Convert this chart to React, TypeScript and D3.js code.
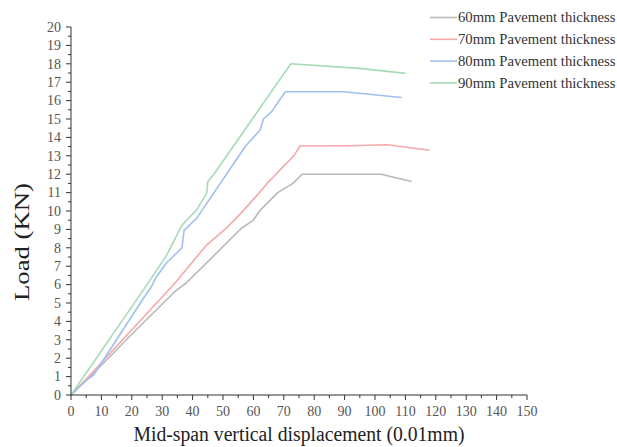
import React from "react";
import * as d3 from "d3";

const series = ["60mm Pavement thickness", "70mm Pavement thickness", "80mm Pavement thickness", "90mm Pavement thickness"];
const colors = ["#b8b8b8", "#f5a8a8", "#9ec0ef", "#a6dbb6"];

const gray: [number, number][] = [[0,0],[6,0.95],[20,3.3],[34,5.6],[38,6.1],[56,9.05],[60,9.5],[62,10],[68,11],[73,11.5],[76,12],[102,12],[112,11.6]];
const red: [number, number][] = [[0,0],[6,1.05],[22,3.9],[34,6.05],[44.6,8.15],[51,9.05],[56,9.9],[62,11],[64.5,11.5],[73.3,13.0],[75.3,13.53],[92,13.55],[104,13.6],[118,13.3]];
const blue: [number, number][] = [[0,0],[5,0.8],[7.5,1.1],[24,5.3],[26.5,5.9],[28,6.4],[31.5,7.2],[35,7.75],[36.5,8.0],[37.2,8.95],[41.3,9.6],[57.5,13.55],[62.2,14.4],[63.3,15.0],[66,15.4],[70.5,16.48],[89.6,16.48],[108.8,16.17]];
const green: [number, number][] = [[0,0],[25,6.0],[31.5,7.6],[36.4,9.2],[38,9.5],[41.3,10.05],[44.6,10.96],[45,11.6],[47,12.0],[72.3,18],[95,17.75],[110,17.48]];
const allData = [gray, red, blue, green];

const xTicks = d3.range(0, 151, 10);
const yTicks = d3.range(0, 21, 1);

export default function App() {
  const x = d3.scaleLinear().domain([0, 150]).range([71, 527]);
  const y = d3.scaleLinear().domain([0, 20]).range([395, 27]);
  const line = d3.line<[number, number]>().x(d => x(d[0])).y(d => y(d[1]));
  const font = "'Liberation Serif', 'Times New Roman', serif";
  const xMinor = d3.range(5, 150, 10);
  const yMinor = d3.range(0.5, 20, 1);
  return (
    <svg width={617} height={447} style={{ position: "absolute", left: 0, top: 0, background: "#fff" }} fontFamily={font}>
      {allData.map((d, i) => (
        <path key={i} d={line(d) || ""} fill="none" stroke={colors[i]} strokeWidth={1.6} strokeLinejoin="round" />
      ))}
      <g stroke="#333" strokeWidth={1}>
        <line x1={x(0)} x2={x(150)} y1={y(0)} y2={y(0)} />
        <line x1={x(0)} x2={x(0)} y1={y(0)} y2={y(20)} />
        {xTicks.map(t => <line key={"xt" + t} x1={x(t)} x2={x(t)} y1={y(0)} y2={y(0) + 5} />)}
        {xMinor.map(t => <line key={"xm" + t} x1={x(t)} x2={x(t)} y1={y(0)} y2={y(0) + 3} />)}
        {yTicks.map(t => <line key={"yt" + t} x1={x(0) - 5} x2={x(0)} y1={y(t)} y2={y(t)} />)}
        {yMinor.map(t => <line key={"ym" + t} x1={x(0) - 3} x2={x(0)} y1={y(t)} y2={y(t)} />)}
      </g>
      <g fill="#555" fontSize={14} fontFamily={font}>
        {xTicks.map(t => <text key={"xl" + t} x={x(t)} y={y(0) + 21} textAnchor="middle">{t}</text>)}
        {yTicks.map(t => <text key={"yl" + t} x={x(0) - 10} y={y(t) + 4.8} textAnchor="end">{t}</text>)}
      </g>
      <text x={x(75) + 0} y={441} textAnchor="middle" fontSize={20} fill="#222" fontFamily={font} textLength={331} lengthAdjust="spacingAndGlyphs">Mid-span vertical displacement (0.01mm)</text>
      <text transform={`translate(29,${242}) rotate(-90)`} textAnchor="middle" fontSize={21} fill="#222" fontFamily={font} textLength={118} lengthAdjust="spacingAndGlyphs">Load (KN)</text>
      {series.map((s, i) => (
        <g key={s} transform={`translate(430,${17.5 + i * 21.8})`}>
          <line x1={0} x2={27} y1={0} y2={0} stroke={colors[i]} strokeWidth={1.6} />
          <text x={28} y={4.8} fontSize={14.7} fill="#333" fontFamily={font}>{s}</text>
        </g>
      ))}
    </svg>
  );
}
